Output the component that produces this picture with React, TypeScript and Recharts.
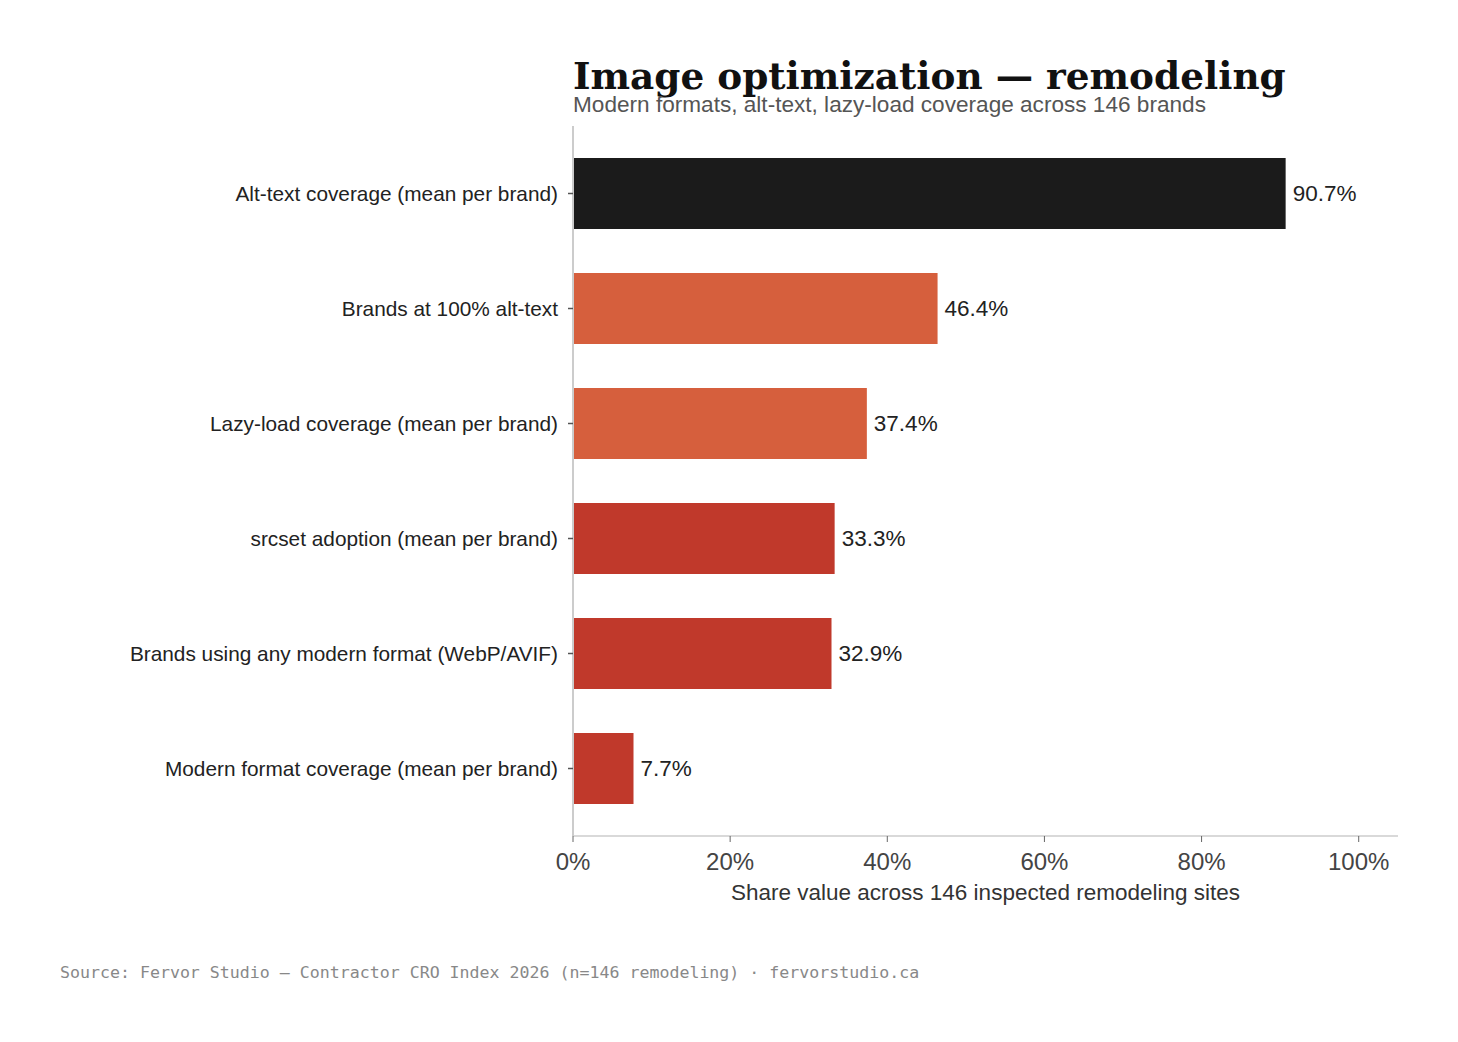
import React from "react";
import { BarChart, Bar, XAxis, YAxis, Cell, LabelList } from "recharts";

const categories = [
  "Alt-text coverage (mean per brand)",
  "Brands at 100% alt-text",
  "Lazy-load coverage (mean per brand)",
  "srcset adoption (mean per brand)",
  "Brands using any modern format (WebP/AVIF)",
  "Modern format coverage (mean per brand)",
];
const values = [90.7, 46.4, 37.4, 33.3, 32.9, 7.7];
const barColors = ["#1b1b1b", "#d65f3d", "#d65f3d", "#c0392b", "#c0392b", "#c0392b"];
const xTicks = [0, 20, 40, 60, 80, 100];

const data = categories.map((name, i) => ({ name, value: values[i] }));

const SANS = "'Liberation Sans', Arial, Helvetica, sans-serif";

export default function App() {
  return (
    <div
      style={{
        position: "absolute",
        left: 0,
        top: 0,
        width: 1458,
        height: 1042,
        background: "#fff",
      }}
    >
      <div
        style={{
          position: "absolute",
          left: 573,
          top: 54,
          fontFamily: "'DejaVu Serif', serif",
          fontWeight: 700,
          fontSize: 37.4,
          lineHeight: "44px",
          color: "#111",
          whiteSpace: "nowrap",
        }}
      >
        Image optimization — remodeling
      </div>
      <div
        style={{
          position: "absolute",
          left: 573,
          top: 93,
          fontFamily: SANS,
          fontSize: 22.6,
          lineHeight: "24px",
          color: "#555",
          whiteSpace: "nowrap",
        }}
      >
        Modern formats, alt-text, lazy-load coverage across 146 brands
      </div>
      <BarChart
        width={1458}
        height={1042}
        data={data}
        layout="vertical"
        margin={{ top: 126, right: 60, bottom: 136, left: 0 }}
        style={{ position: "absolute", left: 0, top: 0 }}
      >
        <XAxis
          type="number"
          domain={[0, 105]}
          ticks={xTicks}
          tickFormatter={(v: number) => `${v}%`}
          axisLine={{ stroke: "#cccccc", strokeWidth: 1.5 }}
          tickLine={{ stroke: "#666", strokeWidth: 1 }}
          tickSize={6}
          tick={{ fontSize: 24, fontFamily: "'Liberation Sans Narrow', " + SANS, fill: "#444" }}
          tickMargin={11}
          height={70}
          label={{
            value: "Share value across 146 inspected remodeling sites",
            position: "insideBottom",
            offset: 6,
            fontSize: 22.5,
            fontFamily: SANS,
            fill: "#333",
          }}
        />
        <YAxis
          type="category"
          dataKey="name"
          width={573}
          padding={{ top: 10, bottom: 10 }}
          axisLine={{ stroke: "#cccccc", strokeWidth: 2 }}
          tickLine={{ stroke: "#555", strokeWidth: 1.5 }}
          tickSize={5}
          tickMargin={10}
          tick={{ fontSize: 20.8, fontFamily: SANS, fill: "#222" }}
        />
        <Bar dataKey="value" barSize={71} isAnimationActive={false}>
          {data.map((d, i) => (
            <Cell key={d.name} fill={barColors[i]} />
          ))}
          <LabelList
            dataKey="value"
            position="right"
            offset={7}
            formatter={(v: number) => `${v}%`}
            style={{ fontSize: 22.5, fontFamily: SANS, fill: "#222" }}
          />
        </Bar>
      </BarChart>
      <div
        style={{
          position: "absolute",
          left: 60,
          top: 963,
          fontFamily: "'DejaVu Sans Mono', monospace",
          fontSize: 16.6,
          lineHeight: "20px",
          color: "#888",
          whiteSpace: "nowrap",
        }}
      >
        Source: Fervor Studio — Contractor CRO Index 2026 (n=146 remodeling) · fervorstudio.ca
      </div>
    </div>
  );
}
